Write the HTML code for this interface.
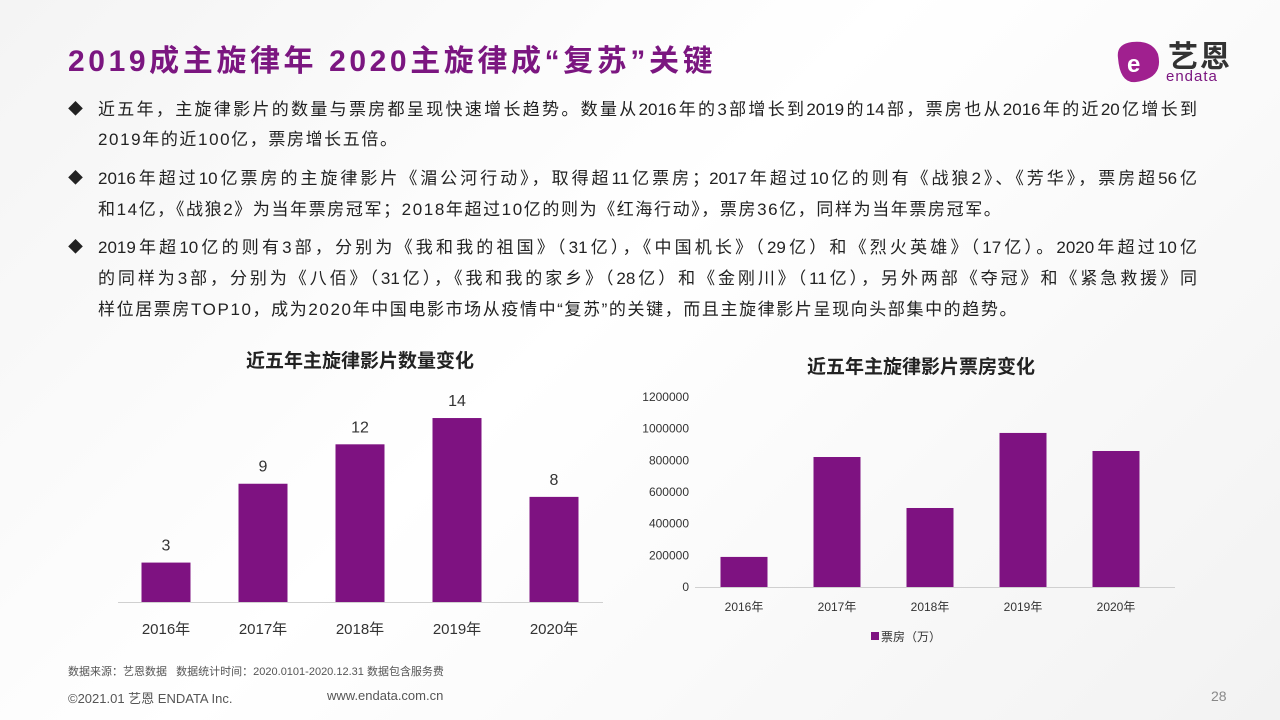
<!DOCTYPE html>
<html><head><meta charset="utf-8"><style>
body{margin:0;width:1280px;height:720px;overflow:hidden;font-family:"Liberation Sans","Noto Sans CJK SC",sans-serif;background:linear-gradient(135deg,#f4f4f4 0%,#ffffff 45%,#f2f2f2 100%);position:relative}
.t{position:absolute;white-space:nowrap}
#title{left:68px;top:36px;font-size:30px;font-weight:bold;color:#7b1680;letter-spacing:3.6px}
.l{position:absolute;left:98px;width:1099px;font-size:17px;color:#222;line-height:31px;height:31px;white-space:nowrap;text-align:justify;text-align-last:justify}
.l.e{text-align-last:left;letter-spacing:1.6px}
.d{position:absolute;left:68px;font-size:15px;color:#222;line-height:31px}
</style></head><body>
<div id="title" class="t">2019成主旋律年 2020主旋律成“复苏”关键</div>
<div class="t" style="left:1114px;top:32px;width:140px;height:56px">
<svg width="50" height="56" style="position:absolute;left:0;top:0"><path d="M4 26 Q2 12 18 10 Q38 8 44 22 Q50 46 22 50 Q6 52 4 26Z" fill="#a0208f"/><text x="13" y="40" font-size="24" fill="#fff" font-weight="bold" font-family="Liberation Sans">e</text></svg>
<span class="t" style="left:54px;top:0;font-size:30px;color:#333;font-weight:bold;letter-spacing:2px">艺恩</span>
<span class="t" style="left:52px;top:36px;font-size:15px;color:#7b1680;letter-spacing:1px">endata</span></div>
<div class="d" style="top:94px">◆</div>
<div class="l" style="top:94px">近五年，主旋律影片的数量与票房都呈现快速增长趋势。数量从2016年的3部增长到2019的14部，票房也从2016年的近20亿增长到</div>
<div class="l e" style="top:124px">2019年的近100亿，票房增长五倍。</div>
<div class="d" style="top:163px">◆</div>
<div class="l" style="top:163px">2016年超过10亿票房的主旋律影片《湄公河行动》，取得超11亿票房；2017年超过10亿的则有《战狼2》、《芳华》，票房超56亿</div>
<div class="l e" style="top:194px">和14亿，《战狼2》为当年票房冠军；2018年超过10亿的则为《红海行动》，票房36亿，同样为当年票房冠军。</div>
<div class="d" style="top:232px">◆</div>
<div class="l" style="top:232px">2019年超10亿的则有3部，分别为《我和我的祖国》（31亿），《中国机长》（29亿）和《烈火英雄》（17亿）。2020年超过10亿</div>
<div class="l" style="top:263px">的同样为3部，分别为《八佰》（31亿），《我和我的家乡》（28亿）和《金刚川》（11亿），另外两部《夺冠》和《紧急救援》同</div>
<div class="l e" style="top:294px">样位居票房TOP10，成为2020年中国电影市场从疫情中“复苏”的关键，而且主旋律影片呈现向头部集中的趋势。</div>
<svg id="c" width="1280" height="720" style="position:absolute;left:0;top:0" font-family="Liberation Sans, Noto Sans CJK SC, sans-serif"></svg>
<div class="t" style="left:68px;top:663px;font-size:11px;color:#555">数据来源：艺恩数据&nbsp;&nbsp;&nbsp;数据统计时间：2020.0101-2020.12.31 数据包含服务费</div>
<div class="t" style="left:68px;top:688px;font-size:13px;color:#555">©2021.01 艺恩 ENDATA Inc.</div>
<div class="t" style="left:327px;top:688px;font-size:13px;color:#555">www.endata.com.cn</div>
<div class="t" style="left:1211px;top:688px;font-size:14px;color:#888">28</div>
<script>
const years=["2016年","2017年","2018年","2019年","2020年"];
const counts=[3,9,12,14,8];
const boxOffice=[190000,821000,499000,973000,859000];
const yTicks=[0,200000,400000,600000,800000,1000000,1200000];
const svg=document.getElementById('c');const NS="http://www.w3.org/2000/svg";
function el(t,a,txt){const e=document.createElementNS(NS,t);for(const k in a)e.setAttribute(k,a[k]);if(txt!==undefined)e.textContent=txt;svg.appendChild(e);return e;}
const P="#7e1281";
const lx=i=>166+i*97, ly=v=>602-v*13.14;
let e=el('text',{x:360,y:367,'text-anchor':'middle','font-size':19,'font-weight':'bold',fill:'#222'},'近五年主旋律影片数量变化');


e=el('line',{x1:118,x2:603,y1:602.5,y2:602.5,stroke:'#d0d0d0'});


counts.forEach((v,i)=>{
 let r=el('rect',{x:lx(i)-24.5,y:ly(v),width:49,height:602-ly(v),fill:P});
 
 
 let t=el('text',{x:lx(i),y:ly(v)-12,'text-anchor':'middle','font-size':16,fill:'#333'},v);
 
 
 let c=el('text',{x:lx(i),y:634,'text-anchor':'middle','font-size':15,fill:'#333'},years[i]);
 
 
});
const rx=i=>744+i*93, ry=v=>587-v/1200000*190;
e=el('text',{x:921,y:373,'text-anchor':'middle','font-size':19,'font-weight':'bold',fill:'#222'},'近五年主旋律影片票房变化');


yTicks.forEach(v=>{let t=el('text',{x:689,y:ry(v)+4,'text-anchor':'end','font-size':12,fill:'#333'},v);
 
 });
e=el('line',{x1:695,x2:1175,y1:587.5,y2:587.5,stroke:'#d0d0d0'});


boxOffice.forEach((v,i)=>{
 let r=el('rect',{x:rx(i)-23.5,y:ry(v),width:47,height:587-ry(v),fill:P});
 
 
 let c=el('text',{x:rx(i),y:611,'text-anchor':'middle','font-size':12,fill:'#333'},years[i]);
 
 
});
e=el('rect',{x:871,y:632,width:8,height:8,fill:P});


e=el('text',{x:881,y:641,'font-size':12,fill:'#333'},'票房（万）');


</script>
</body></html>
